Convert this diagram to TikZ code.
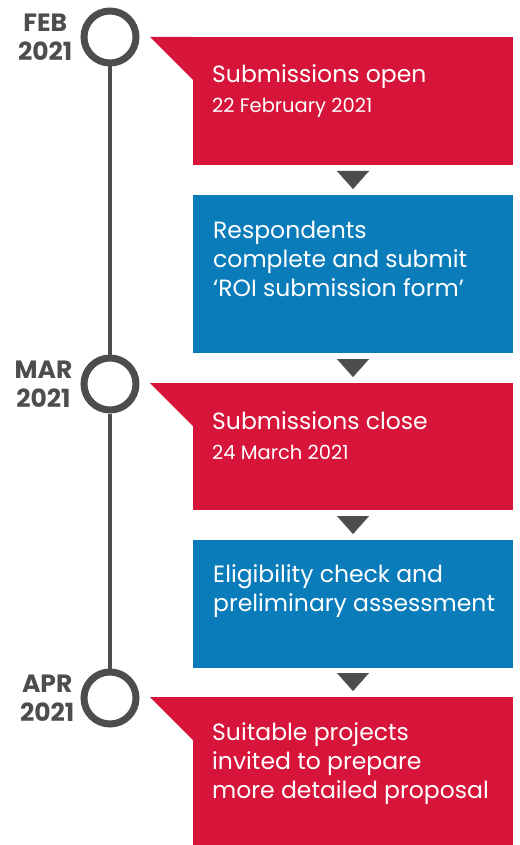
\documentclass[tikz,border=0pt]{standalone}
\usepackage{fontspec}
\setmainfont{Poppins}
\usepackage{tikz}
\usetikzlibrary{positioning,arrows.meta}
\definecolor{roired}{HTML}{D7153A}
\definecolor{roiblue}{HTML}{0B7CBA}
\definecolor{roigray}{HTML}{4D4D4D}
\tikzstyle{redbox} = [fill=roired, rectangle, minimum width=320pt, inner sep=0pt, outer sep=0pt]
\tikzstyle{bluebox} = [fill=roiblue, rectangle, minimum width=320pt, inner sep=0pt, outer sep=0pt]
\tikzstyle{milestone} = [draw=roigray, circle, line width=7pt, minimum size=52pt, inner sep=0pt]
\tikzstyle{month} = [text=roigray, font=\fontsize{25}{29}\selectfont\bfseries, align=center, inner sep=0pt]
\tikzstyle{title} = [text=white, font=\fontsize{23.5}{29}\selectfont, align=left, inner sep=0pt]
\tikzstyle{date} = [text=white, font=\fontsize{19.5}{22}\selectfont, inner sep=0pt]
\tikzstyle{flow} = [-{Triangle[width=32pt,length=18pt]}, roigray, line width=0.1pt, shorten <=6pt, shorten >=6pt]

\begin{document}
\begin{tikzpicture}[x=1pt, y=-1pt, node distance=30pt]
    \useasboundingbox (0,0) rectangle (519,845);
    % timeline
    \node [milestone, label={[month, label distance=8pt]left:{FEB\\2021}}] (feb) at (110,37) {};
    \node [milestone, label={[month, label distance=8pt]left:{MAR\\2021}}] (mar) at (110,384) {};
    \node [milestone, label={[month, label distance=6pt]left:{APR\\2021}}] (apr) at (110,698) {};
    \draw [roigray, line width=3.5pt] (feb) -- (mar);
    \draw [roigray, line width=3.5pt] (mar) -- (apr);
    % boxes
    \node [redbox, minimum height=128pt, anchor=north west] (open) at (193,37) {};
    \node [bluebox, minimum height=158pt, below=of open] (respond) {};
    \node [redbox, minimum height=127pt, below=of respond] (close) {};
    \node [bluebox, minimum height=128pt, below=of close] (check) {};
    \node [redbox, minimum height=150pt, below=29pt of check] (select) {};
    \fill [roired] (open.north west) -- ++(-43,0) -- ++(43,43) -- cycle;
    \fill [roired] (close.north west) -- ++(-43,0) -- ++(43,43) -- cycle;
    \fill [roired] (select.north west) -- ++(-43,0) -- ++(43,43) -- cycle;
    % texts (base = last line)
    \node [title, below right=46pt and 19pt of open.north west, anchor=base west] (opentitle) {Submissions open};
    \node [date, below right=76pt and 19pt of open.north west, anchor=base west] (opendate) {22 February 2021};
    \node [title, below right=101pt and 20pt of respond.north west, anchor=base west] (respondtext) {Respondents\\complete and submit\\‘ROI submission form’};
    \node [title, below right=46pt and 19pt of close.north west, anchor=base west] (closetitle) {Submissions close};
    \node [date, below right=76pt and 19pt of close.north west, anchor=base west] (closedate) {24 March 2021};
    \node [title, below right=71pt and 20pt of check.north west, anchor=base west] (checktext) {Eligibility check and\\preliminary assessment};
    \node [title, below right=101pt and 19pt of select.north west, anchor=base west] (selecttext) {Suitable projects\\invited to prepare\\more detailed proposal};
    % arrows
    \draw [flow] (open) -- (respond);
    \draw [flow] (respond) -- (close);
    \draw [flow] (close) -- (check);
    \draw [flow] (check) -- (select);
\end{tikzpicture}
\end{document}
